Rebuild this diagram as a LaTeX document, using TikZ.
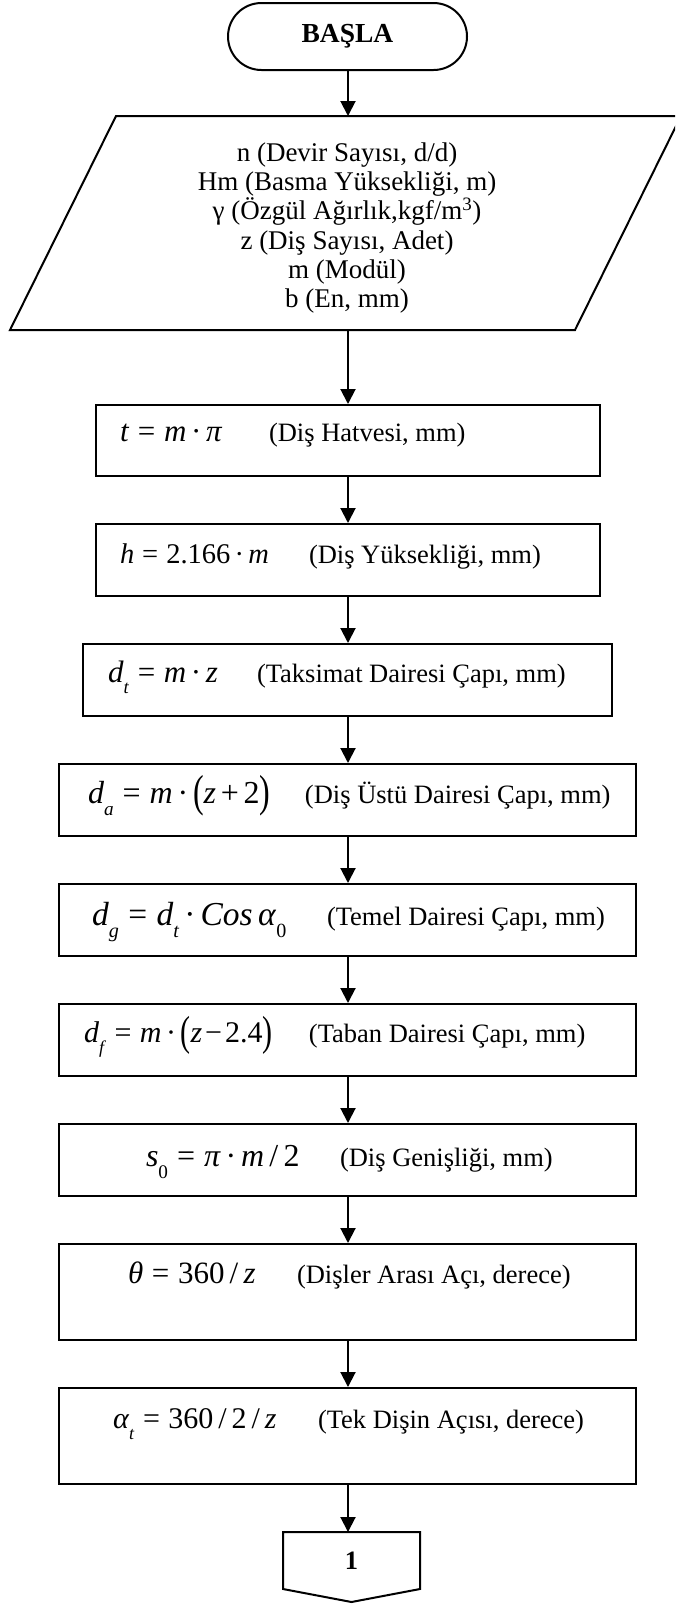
\documentclass[tikz,border=0pt]{standalone}
\usepackage{fontspec}
\setmainfont{Liberation Serif}
\usepackage{graphicx}
\usetikzlibrary{arrows.meta}

% formula helpers (Times-like typesetting with text fonts)
\newcommand{\vi}[1]{\textit{#1}}
\newcommand{\lowidx}[1]{\raisebox{-0.38em}{\scalebox{0.6}{#1}}}
\newcommand{\eqs}{\hspace{0.28em}=\hspace{0.28em}}
\newcommand{\mdot}{\hspace{0.15em}·\hspace{0.15em}}
\newcommand{\tallparen}[1]{\raisebox{-0.1em}{\scalebox{1}[1.4]{#1}}}
\newcommand{\fsz}[1]{\fontsize{#1pt}{#1pt}\selectfont}

% process box: name, left, right, top, bottom, text start x, baseline y, content
\newcommand{\procbox}[8]{%
  \pgfmathsetmacro{\pbpad}{#6-#2}%
  \pgfmathsetmacro{\pbwid}{#3-#2-2*(#6-#2)}%
  \pgfmathsetmacro{\pbcx}{(#2+#3)/2}%
  \pgfmathsetmacro{\pbcy}{-(#4+#5)/2}%
  \pgfmathsetmacro{\pbht}{#7-#4}%
  \pgfmathsetmacro{\pbdp}{#5-#7}%
  \node[procbox, inner xsep=\pbpad pt, text height=\pbht pt, text depth=\pbdp pt]
    (#1) at (\pbcx pt,\pbcy pt) {\makebox[\pbwid pt][l]{#8}};%
}

\tikzset{
  txt/.style={font=\fontsize{26.5pt}{29.2pt}\selectfont},
  flow/.style={line width=2pt, -{Triangle[length=15pt,width=15pt]}},
  procbox/.style={txt, draw, line width=2pt, rectangle, inner ysep=0pt},
  term/.style={txt, draw, line width=2pt, rounded corners=33.5pt,
    minimum width=239pt, minimum height=67pt, inner sep=0pt},
  outline/.style={draw, line width=2pt, line join=miter},
}

\begin{document}
\begin{tikzpicture}
\useasboundingbox (0,0) rectangle (675pt,-1604pt);
\coordinate (axis) at (348pt,0);

% start terminal
\node[term] (start) at (347.5pt,-36.5pt) {\fsz{27.5}\textbf{BAŞLA}};

% input parallelogram
\coordinate (pTL) at (116pt,-116pt);
\coordinate (pTR) at (681pt,-116pt);
\coordinate (pBR) at (575pt,-330pt);
\coordinate (pBL) at (10pt,-330pt);
\begin{scope}
  \clip (0,0) rectangle (675pt,-1604pt);
  \draw[outline] (pTL) -- (pTR) -- (pBR) -- (pBL) -- cycle;
\end{scope}
\coordinate (inTop) at (348pt,-116pt);
\coordinate (inBot) at (348pt,-330pt);
\node[align=center, inner sep=0pt, font=\fontsize{27pt}{29.3pt}\selectfont]
  (input) at (347pt,-228pt)
  {n (Devir Sayısı, d/d)\\
   Hm (Basma Yüksekliği, m)\\
   γ (Özgül Ağırlık,kgf/m\textsuperscript{3})\\
   z (Diş Sayısı, Adet)\\
   m (Modül)\\
   b (En, mm)};

% computation steps
\procbox{tbox}{96}{600}{405}{476}{120}{441}
  {\makebox[149pt][l]{\fsz{31}\vi{t}\eqs\vi{m}\mdot\vi{π}}(Diş Hatvesi, mm)}
\procbox{hbox}{96}{600}{524}{596}{120}{563}
  {\makebox[189pt][l]{\fsz{28.5}\vi{h}\eqs 2.166\mdot\vi{m}}(Diş Yüksekliği, mm)}
\procbox{dtbox}{83}{612}{644}{716}{108}{682}
  {\makebox[149pt][l]{\fsz{31}\vi{d}\lowidx{\vi{t}}\eqs\vi{m}\mdot\vi{z}}(Taksimat Dairesi Çapı, mm)}
\procbox{dabox}{59}{636}{764}{836}{88}{803}
  {\makebox[217pt][l]{\fsz{32}\vi{d}\lowidx{\vi{a}}\eqs\vi{m}\mdot\tallparen{(}\vi{z}\hspace{0.15em}+\hspace{0.15em}2\tallparen{)}}(Diş Üstü Dairesi Çapı, mm)}
\procbox{dgbox}{59}{636}{884}{956}{92}{925}
  {\makebox[235pt][l]{\fsz{33.5}\vi{d}\lowidx{\vi{g}}\eqs\vi{d}\lowidx{\vi{t}}\mdot\vi{Cos}\,\vi{α}\lowidx{0}}(Temel Dairesi Çapı, mm)}
\procbox{dfbox}{59}{636}{1004}{1076}{84}{1042}
  {\makebox[225pt][l]{\fsz{30}\vi{d}\lowidx{\vi{f}}\eqs\vi{m}\mdot\tallparen{(}\vi{z}\hspace{0.1em}−\hspace{0.1em}2.4\tallparen{)}}(Taban Dairesi Çapı, mm)}
\procbox{sbox}{59}{636}{1124}{1196}{146}{1166}
  {\makebox[194pt][l]{\fsz{32}\vi{s}\lowidx{0}\eqs\vi{π}\mdot\vi{m}\,/\,2}(Diş Genişliği, mm)}
\procbox{thbox}{59}{636}{1244}{1340}{128}{1283}
  {\makebox[169pt][l]{\fsz{31}\vi{θ}\eqs 360\,/\,\vi{z}}(Dişler Arası Açı, derece)}
\procbox{albox}{59}{636}{1388}{1484}{113}{1428}
  {\makebox[205pt][l]{\fsz{30}\vi{α}\lowidx{\vi{t}}\eqs 360\,/\,2\,/\,\vi{z}}(Tek Dişin Açısı, derece)}

% off-page connector
\coordinate (cTL) at (283pt,-1532pt);
\coordinate (cTR) at (420pt,-1532pt);
\coordinate (cBR) at (420pt,-1589pt);
\coordinate (cTip) at (351.5pt,-1602pt);
\coordinate (cBL) at (283pt,-1589pt);
\coordinate (cTop) at (348pt,-1532pt);
\draw[outline] (cTL) -- (cTR) -- (cBR) -- (cTip) -- (cBL) -- cycle;
\node[txt, inner sep=0pt] (cont) at (351.5pt,-1561pt) {\textbf{1}};

% connectors
\draw[flow] (start.south -| axis) -- (inTop);
\draw[flow] (inBot) -- (tbox.north -| axis);
\draw[flow] (tbox.south -| axis) -- (hbox.north -| axis);
\draw[flow] (hbox.south -| axis) -- (dtbox.north -| axis);
\draw[flow] (dtbox.south -| axis) -- (dabox.north -| axis);
\draw[flow] (dabox.south -| axis) -- (dgbox.north -| axis);
\draw[flow] (dgbox.south -| axis) -- (dfbox.north -| axis);
\draw[flow] (dfbox.south -| axis) -- (sbox.north -| axis);
\draw[flow] (sbox.south -| axis) -- (thbox.north -| axis);
\draw[flow] (thbox.south -| axis) -- (albox.north -| axis);
\draw[flow] (albox.south -| axis) -- (cTop);
\end{tikzpicture}
\end{document}
